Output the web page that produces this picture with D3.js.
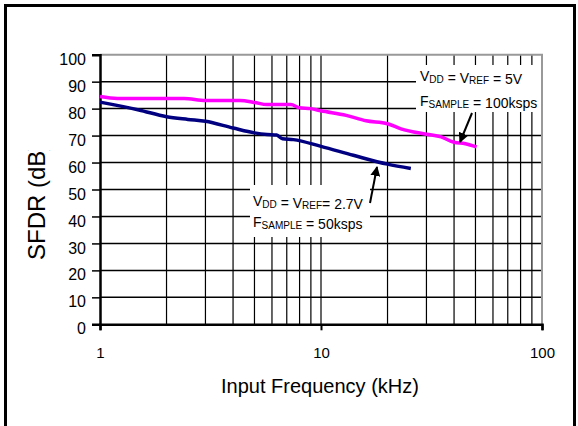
<!DOCTYPE html>
<html>
<head>
<meta charset="utf-8">
<script src="https://cdn.jsdelivr.net/npm/d3@7"></script>
<style>
  body { margin: 0; background: #fff; }
  svg text { font-family: "Liberation Sans", Arial, sans-serif; fill: #000; }
</style>
</head>
<body>
<div id="chart"></div>
<script>
// Chart data
const xTicks = [1, 10, 100];
const yTicks = [0, 10, 20, 30, 40, 50, 60, 70, 80, 90, 100];

// VDD = VREF = 2.7V, FSAMPLE = 50ksps (navy)
const freq27 = [1, 1.5, 2, 2.5, 3, 4, 5, 5.7, 6.3, 6.7, 7.5, 10, 14, 20, 25.5];
const sfdr27 = [82.4, 79.5, 77, 76, 75.3, 72.8, 71, 70.4, 70.2, 68.8, 68.5, 66, 62.7, 59.4, 57.8];

// VDD = VREF = 5V, FSAMPLE = 100ksps (magenta)
const freq5 = [1, 1.2, 2.4, 3, 4.3, 5, 5.7, 7.3, 8, 9, 10, 13, 16, 20, 23, 30, 35, 40, 45, 50.6];
const sfdr5 = [84.5, 83.8, 83.8, 83, 83, 82.3, 81.5, 81.5, 80.3, 80, 79.2, 77.5, 75.5, 74.4, 72.5, 70.5, 69.5, 67.5, 67, 65.8];

const width = 578;
const height = 426;
const plotLeft = 100, plotRight = 542, plotTop = 54.7, plotBottom = 324.3;

const svg = d3.select("#chart").append("svg")
    .attr("width", width)
    .attr("height", height);

const x = d3.scaleLog().domain([1, 100]).range([plotLeft, plotRight]);
const y = d3.scaleLinear().domain([0, 100]).range([plotBottom, plotTop]);

// Outer frame (left, top, right)
svg.append("path")
    .attr("d", `M5.5,${height} V5.5 H574.5 V${height}`)
    .attr("fill", "none")
    .attr("stroke", "#000")
    .attr("stroke-width", 3);

// Vertical grid at every 1..9 per decade
const minor = [];
for (const d of [1, 10]) {
    for (let k = 2; k <= 9; k++) minor.push(d * k);
}
svg.append("g").selectAll("line")
    .data(minor.concat([10]))
    .enter().append("line")
    .attr("x1", d => x(d)).attr("x2", d => x(d))
    .attr("y1", plotTop).attr("y2", plotBottom)
    .attr("stroke", "#000")
    .attr("stroke-width", 1.2);

// Horizontal grid
svg.append("g").selectAll("line")
    .data(yTicks.filter(d => d > 0 && d < 100))
    .enter().append("line")
    .attr("x1", plotLeft).attr("x2", plotRight)
    .attr("y1", d => y(d)).attr("y2", d => y(d))
    .attr("stroke", "#000")
    .attr("stroke-width", 1.5);

// Grey top and right edges of the plot
svg.append("path")
    .attr("d", `M${plotLeft},${y(100)} H${plotRight} V${plotBottom}`)
    .attr("fill", "none")
    .attr("stroke", "#999")
    .attr("stroke-width", 2);

// Y axis
const yAxis = svg.append("g")
    .attr("transform", `translate(${plotLeft},0)`)
    .call(d3.axisLeft(y).tickValues(yTicks).tickSize(8).tickPadding(6));
yAxis.select(".domain").attr("stroke-width", 2.5);
yAxis.selectAll(".tick line").attr("stroke-width", 1.5);
yAxis.selectAll("text")
    .attr("font-size", 16)
    .attr("dy", "0.6em")
    .style("font-family", "Liberation Sans, Arial, sans-serif");

// X axis
const xAxis = svg.append("g")
    .attr("transform", `translate(0,${plotBottom})`)
    .call(d3.axisBottom(x).tickValues(xTicks).tickFormat(d3.format("d")).tickSize(6).tickPadding(17));
xAxis.select(".domain").attr("stroke-width", 2.5);
xAxis.selectAll(".tick line").attr("stroke-width", 2);
xAxis.selectAll("text")
    .attr("font-size", 15)
    .style("font-family", "Liberation Sans, Arial, sans-serif");

// Axis titles
svg.append("text")
    .attr("x", 320).attr("y", 393)
    .attr("text-anchor", "middle")
    .attr("font-size", 20)
    .text("Input Frequency (kHz)");

// the closing bracket of the y title is cut off in the original
svg.append("clipPath").attr("id", "yclip")
    .append("rect").attr("x", 0).attr("y", 150).attr("width", 80).attr("height", 200);
svg.append("g").attr("clip-path", "url(#yclip)")
    .append("text")
    .attr("transform", "translate(45,260) rotate(-90)")
    .attr("text-anchor", "start")
    .attr("font-size", 24)
    .text("SFDR (dB)");

// Curves
const line = d3.line()
    .x(d => x(d[0]))
    .y(d => y(d[1]))
    .curve(d3.curveMonotoneX);

svg.append("path")
    .datum(d3.zip(freq5, sfdr5))
    .attr("fill", "none")
    .attr("stroke", "#ff00ff")
    .attr("stroke-width", 3.5)
    .attr("d", line);

svg.append("path")
    .datum(d3.zip(freq27, sfdr27))
    .attr("fill", "none")
    .attr("stroke", "#000080")
    .attr("stroke-width", 3.5)
    .attr("d", line);

// Annotation boxes
svg.append("rect").attr("x", 416).attr("y", 65).attr("width", 125).attr("height", 47).attr("fill", "#fff");
svg.append("rect").attr("x", 250).attr("y", 185).attr("width", 120).attr("height", 52).attr("fill", "#fff");

function label(xPos, yPos, parts) {
    const t = svg.append("text").attr("x", xPos).attr("y", yPos).attr("font-size", 14);
    parts.forEach(p => {
        if (p.sub) {
            t.append("tspan").attr("font-size", 10).attr("dy", 1.5).text(p.s);
            t.append("tspan").attr("dy", -1.5).text("");
        } else {
            t.append("tspan").text(p.s);
        }
    });
}

label(420, 81, [{s: "V"}, {s: "DD", sub: true}, {s: " = V"}, {s: "REF", sub: true}, {s: " = 5V"}]);
label(420, 106, [{s: "F"}, {s: "SAMPLE", sub: true}, {s: " = 100ksps"}]);
label(253, 206, [{s: "V"}, {s: "DD", sub: true}, {s: "  = V"}, {s: "REF", sub: true}, {s: "= 2.7V"}]);
label(253, 227, [{s: "F"}, {s: "SAMPLE", sub: true}, {s: " = 50ksps"}]);

// Arrows
svg.append("defs").append("marker")
    .attr("id", "head")
    .attr("viewBox", "0 0 10 10")
    .attr("refX", 9).attr("refY", 5)
    .attr("markerWidth", 5).attr("markerHeight", 5)
    .attr("orient", "auto")
    .append("path").attr("d", "M0,0 L10,5 L0,10 z").attr("fill", "#000");

svg.append("line")
    .attr("x1", 472).attr("y1", 113).attr("x2", 460).attr("y2", 142)
    .attr("stroke", "#000").attr("stroke-width", 2)
    .attr("marker-end", "url(#head)");

svg.append("line")
    .attr("x1", 370).attr("y1", 203).attr("x2", 377).attr("y2", 167)
    .attr("stroke", "#000").attr("stroke-width", 2)
    .attr("marker-end", "url(#head)");
</script>
</body>
</html>
